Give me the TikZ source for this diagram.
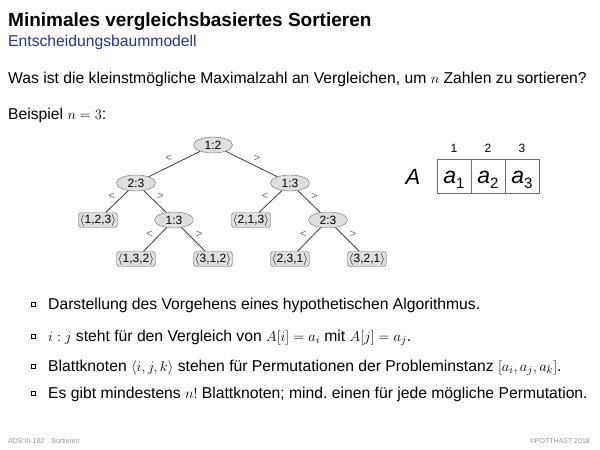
\documentclass[tikz,border=0pt]{standalone}
\usepackage{fontspec}
\setmainfont{Liberation Sans}
\usetikzlibrary{shapes.geometric,shadows}
\definecolor{slsub}{RGB}{38,52,140}
\definecolor{slgray}{RGB}{110,110,110}
\definecolor{slfill}{RGB}{222,222,222}
\definecolor{slline}{RGB}{60,60,60}
\definecolor{slfoot}{RGB}{150,150,150}
\tikzset{cmpnode/.style={ellipse,draw=slgray,fill=slfill,inner sep=0pt,minimum width=39pt,minimum height=16pt,font=\fontsize{12}{12}\selectfont},
  leafnode/.style={rounded corners=3pt,draw=slgray,fill=slfill,inner sep=1.5pt,minimum height=14pt,font=\fontsize{12}{12}\selectfont},
  branch/.style={draw=slline,line width=0.8pt},
  rel/.style={font=\fontsize{11}{11}\selectfont,text=slgray,inner sep=2pt},
  cell/.style={draw=slgray,minimum size=34pt,inner sep=0pt,text height=17pt,text depth=3pt,font=\fontsize{23}{23}\selectfont\itshape},
  txt/.style={anchor=base west,inner sep=0pt,font=\fontsize{15.7}{18}\selectfont},
  sq/.style={draw=black,fill=white,minimum size=4.5pt,inner sep=0pt,line width=0.4pt,
    drop shadow={shadow xshift=0.8pt,shadow yshift=-0.8pt,opacity=1,fill=black}},
  foot/.style={inner sep=0pt,anchor=base,font=\fontsize{7}{7}\selectfont,text=slfoot}}
\newcommand{\sub}[1]{\raisebox{-0.25em}{\fontsize{15}{15}\selectfont\upshape #1}}

\begin{document}
\begin{tikzpicture}[x=1pt,y=-1pt]
\useasboundingbox (0,0) rectangle (600,450);
% head
\node[txt,font=\fontsize{19}{22}\selectfont\bfseries] (title) at (8,26) {Minimales vergleichsbasiertes Sortieren};
\node[txt,text=slsub] (subtitle) at (8,46) {Entscheidungsbaummodell};
\node[txt] (question) at (8,83) {Was ist die kleinstmögliche Maximalzahl an Vergleichen, um $n$ Zahlen zu sortieren?};
\node[txt] (example) at (8,119) {Beispiel $n=3$:};
% decision tree
\node[cmpnode] (r) at (213,145) {1:2};
\node[cmpnode] (l) at (136,183) {2:3};
\node[cmpnode] (rr) at (290,183) {1:3};
\node[leafnode] (l123) at (98,220) {$\langle$1,2,3$\rangle$};
\node[cmpnode] (lr) at (174,220) {1:3};
\node[leafnode] (l213) at (251,220) {$\langle$2,1,3$\rangle$};
\node[cmpnode] (rrr) at (328,220) {2:3};
\node[leafnode] (l132) at (136,259) {$\langle$1,3,2$\rangle$};
\node[leafnode] (l312) at (213,259) {$\langle$3,1,2$\rangle$};
\node[leafnode] (l231) at (290,259) {$\langle$2,3,1$\rangle$};
\node[leafnode] (l321) at (367,259) {$\langle$3,2,1$\rangle$};
\draw[branch] (r)--node[rel,above left] {<} (l);
\draw[branch] (r)--node[rel,above right] {>} (rr);
\draw[branch] (l)--node[rel,above left] {<} (l123);
\draw[branch] (l)--node[rel,above right] {>} (lr);
\draw[branch] (lr)--node[rel,above left] {<} (l132);
\draw[branch] (lr)--node[rel,above right] {>} (l312);
\draw[branch] (rr)--node[rel,above left] {<} (l213);
\draw[branch] (rr)--node[rel,above right] {>} (rrr);
\draw[branch] (rrr)--node[rel,above left] {<} (l231);
\draw[branch] (rrr)--node[rel,above right] {>} (l321);
% array
\node[font=\fontsize{22}{22}\selectfont\itshape] (arr) at (413,177) {A};
\node[cell] (c1) at (454,176) {a\sub{1}};
\node[cell] (c2) at (488,176) {a\sub{2}};
\node[cell] (c3) at (522,176) {a\sub{3}};
\node[font=\fontsize{12}{12}\selectfont] (i1) at (454,148) {1};
\node[font=\fontsize{12}{12}\selectfont] (i2) at (488,148) {2};
\node[font=\fontsize{12}{12}\selectfont] (i3) at (522,148) {3};
% bullets
\node[sq] (b1) at (33,304) {};
\node[txt] (t1) at (48,309) {Darstellung des Vorgehens eines hypothetischen Algorithmus.};
\node[sq] (b2) at (33,336) {};
\node[txt] (t2) at (48,341) {$i:j$ steht für den Vergleich von $A[i]=a_i$ mit $A[j]=a_j$.};
\node[sq] (b3) at (33,366) {};
\node[txt] (t3) at (48,371) {Blattknoten $\langle i,j,k\rangle$ stehen für Permutationen der Probleminstanz $[a_i,a_j,a_k]$.};
\node[sq] (b4) at (33,393) {};
\node[txt] (t4) at (48,398) {Es gibt mindestens $n!$ Blattknoten; mind.\ einen für jede mögliche Permutation.};
% footer
\node[foot,anchor=base west] (f1) at (8,443) {ADS:III-182\quad Sortieren};
\node[foot,anchor=base east] (f2) at (590,443) {©POTTHAST 2018};
\end{tikzpicture}
\end{document}
